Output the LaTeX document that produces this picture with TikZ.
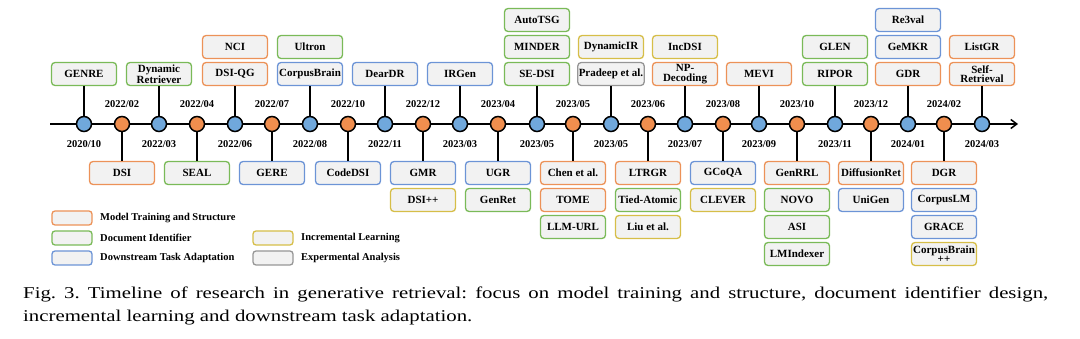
\documentclass[tikz,border=0pt]{standalone}
\usepackage{fontspec}
\setmainfont{Liberation Serif}
\newfontfamily\capfont[FakeStretch=1.26]{Liberation Serif}
\usetikzlibrary{arrows.meta}

\definecolor{boxfill}{RGB}{242,242,242}
\definecolor{mtsline}{RGB}{236,146,88}
\definecolor{docline}{RGB}{122,186,88}
\definecolor{dtaline}{RGB}{108,148,214}
\definecolor{incline}{RGB}{214,190,72}
\definecolor{expline}{RGB}{150,150,150}
\definecolor{dotblue}{RGB}{112,168,220}
\definecolor{dotorange}{RGB}{240,142,78}

\begin{document}
\frenchspacing
\begin{tikzpicture}[x=1pt, y=-1pt,
  cbox/.style={draw, line width=1.3pt, rounded corners=3.5pt, fill=boxfill,
    minimum width=65pt, minimum height=23pt, inner sep=1pt, align=center,
    font=\fontsize{11}{9.5}\selectfont\bfseries},
  mts/.style={cbox, draw=mtsline},
  docid/.style={cbox, draw=docline},
  dta/.style={cbox, draw=dtaline},
  incr/.style={cbox, draw=incline},
  expa/.style={cbox, draw=expline},
  lgbox/.style={draw, line width=1.3pt, rounded corners=3pt, fill=boxfill,
    minimum width=40pt, minimum height=14pt, inner sep=0pt},
  lgtext/.style={anchor=west, inner sep=0pt, font=\fontsize{10.5}{12}\selectfont\bfseries},
  bdot/.style={circle, draw, line width=1.5pt, fill=dotblue, minimum size=15pt, inner sep=0pt},
  odot/.style={circle, draw, line width=1.5pt, fill=dotorange, minimum size=15pt, inner sep=0pt},
  datelbl/.style={inner sep=0pt, font=\fontsize{10.5}{12}\selectfont\bfseries},
  stem/.style={line width=1.2pt}]

  \useasboundingbox (0,0) rectangle (1080,339);

  % === TIME AXIS ===
  \coordinate (axstart) at (50,124);
  \coordinate (axend) at (1018,124);
  \draw[line width=1.5pt, -{Straight Barb[length=6pt, width=9pt]}] (axstart) -- (axend);

  \foreach \i/\x/\d in {0/84/2020\slash10, 2/159/2022\slash03, 4/235/2022\slash06,
      6/310/2022\slash08, 8/385/2022\slash11, 10/460/2023\slash03, 12/537/2023\slash05,
      14/611/2023\slash05, 16/685/2023\slash07, 18/759/2023\slash09, 20/835/2023\slash11,
      22/908/2024\slash01, 24/982/2024\slash03} {
    \node[bdot] (t\i) at (\x,124) {};
    \node[datelbl] (d\i) at (\x,144) {\d};
  }
  \foreach \i/\x/\d in {1/122/2022\slash02, 3/197/2022\slash04, 5/272/2022\slash07,
      7/348/2022\slash10, 9/423/2022\slash12, 11/498/2023\slash04, 13/573/2023\slash05,
      15/648/2023\slash06, 17/723/2023\slash08, 19/797/2023\slash10, 21/871/2023\slash12,
      23/944/2024\slash02} {
    \node[odot] (t\i) at (\x,124) {};
    \node[datelbl] (d\i) at (\x,104) {\d};
  }

  % === WORKS ABOVE THE AXIS ===
  \node[docid] (genre) at (84,74) {GENRE};
  \node[docid] (dynret) at (159,74) {Dynamic\\Retriever};
  \node[mts] (dsiqg) at (235,74) {DSI-QG};
  \node[mts] (nci) at (235,47) {NCI};
  \node[dta] (corpusbrain) at (310,74) {CorpusBrain};
  \node[docid] (ultron) at (310,47) {Ultron};
  \node[dta] (deardr) at (385,74) {DearDR};
  \node[dta] (irgen) at (460,74) {IRGen};
  \node[docid] (sedsi) at (537,74) {SE-DSI};
  \node[docid] (minder) at (537,47) {MINDER};
  \node[docid] (autotsg) at (537,20) {AutoTSG};
  \node[expa] (pradeep) at (611,74) {Pradeep et al.};
  \node[incr] (dynamicir) at (611,47) {DynamicIR};
  \node[mts] (npdec) at (685,74) {NP-\\Decoding};
  \node[incr] (incdsi) at (685,47) {IncDSI};
  \node[mts] (mevi) at (759,74) {MEVI};
  \node[docid] (ripor) at (835,74) {RIPOR};
  \node[docid] (glen) at (835,47) {GLEN};
  \node[mts] (gdr) at (908,74) {GDR};
  \node[dta] (gemkr) at (908,47) {GeMKR};
  \node[dta] (reeval) at (908,20) {Re3val};
  \node[mts] (selfret) at (982,74) {Self-\\Retrieval};
  \node[mts] (listgr) at (982,47) {ListGR};

  \draw[stem] (t0) -- (genre);
  \draw[stem] (t2) -- (dynret);
  \draw[stem] (t4) -- (dsiqg);
  \draw[stem] (t6) -- (corpusbrain);
  \draw[stem] (t8) -- (deardr);
  \draw[stem] (t10) -- (irgen);
  \draw[stem] (t12) -- (sedsi);
  \draw[stem] (t14) -- (pradeep);
  \draw[stem] (t16) -- (npdec);
  \draw[stem] (t18) -- (mevi);
  \draw[stem] (t20) -- (ripor);
  \draw[stem] (t22) -- (gdr);
  \draw[stem] (t24) -- (selfret);

  % === WORKS BELOW THE AXIS ===
  \node[mts] (dsi) at (122,173) {DSI};
  \node[docid] (seal) at (197,173) {SEAL};
  \node[dta] (gere) at (272,173) {GERE};
  \node[dta] (codedsi) at (348,173) {CodeDSI};
  \node[dta] (gmr) at (423,173) {GMR};
  \node[incr] (dsipp) at (423,200) {DSI++};
  \node[dta] (ugr) at (498,173) {UGR};
  \node[docid] (genret) at (498,200) {GenRet};
  \node[mts] (chen) at (573,173) {Chen et al.};
  \node[mts] (tome) at (573,200) {TOME};
  \node[docid] (llmurl) at (573,227) {LLM-URL};
  \node[mts] (ltrgr) at (648,173) {LTRGR};
  \node[docid] (tied) at (648,200) {Tied-Atomic};
  \node[incr] (liu) at (648,227) {Liu et al.};
  \node[dta] (gcoqa) at (723,173) {GCoQA};
  \node[incr] (clever) at (723,200) {CLEVER};
  \node[mts] (genrrl) at (797,173) {GenRRL};
  \node[docid] (novo) at (797,200) {NOVO};
  \node[docid] (asi) at (797,227) {ASI};
  \node[docid] (lmindexer) at (797,254) {LMIndexer};
  \node[mts] (diffret) at (871,173) {DiffusionRet};
  \node[dta] (unigen) at (871,200) {UniGen};
  \node[mts] (dgr) at (944,173) {DGR};
  \node[dta] (corpuslm) at (944,200) {CorpusLM};
  \node[dta] (grace) at (944,227) {GRACE};
  \node[incr] (cbpp) at (944,254) {CorpusBrain\\++};

  \draw[stem] (t1) -- (dsi);
  \draw[stem] (t3) -- (seal);
  \draw[stem] (t5) -- (gere);
  \draw[stem] (t7) -- (codedsi);
  \draw[stem] (t9) -- (gmr);
  \draw[stem] (t11) -- (ugr);
  \draw[stem] (t13) -- (chen);
  \draw[stem] (t15) -- (ltrgr);
  \draw[stem] (t17) -- (gcoqa);
  \draw[stem] (t19) -- (genrrl);
  \draw[stem] (t21) -- (diffret);
  \draw[stem] (t23) -- (dgr);

  % === LEGEND ===
  \node[lgbox, draw=mtsline] (lgmts) at (72,218) {};
  \node[lgtext] (lgmtstxt) at (100,218) {Model Training and Structure};
  \node[lgbox, draw=docline] (lgdoc) at (72,238) {};
  \node[lgtext] (lgdoctxt) at (100,238) {Document Identifier};
  \node[lgbox, draw=dtaline] (lgdta) at (72,258) {};
  \node[lgtext] (lgdtatxt) at (100,258) {Downstream Task Adaptation};
  \node[lgbox, draw=incline] (lginc) at (273,238) {};
  \node[lgtext] (lginctxt) at (301,238) {Incremental Learning};
  \node[lgbox, draw=expline] (lgexp) at (273,258) {};
  \node[lgtext] (lgexptxt) at (301,258) {Expermental Analysis};

  % === CAPTION ===
  \node[anchor=north west, align=left, inner sep=0pt,
    font=\capfont\fontsize{16.5}{23}\selectfont] (caption) at (23,287)
    {\makebox[1025pt][s]{Fig. 3. Timeline of research in generative retrieval: focus on model training and structure, document identifier design,}\\
     incremental learning and downstream task adaptation.};

\end{tikzpicture}
\end{document}
